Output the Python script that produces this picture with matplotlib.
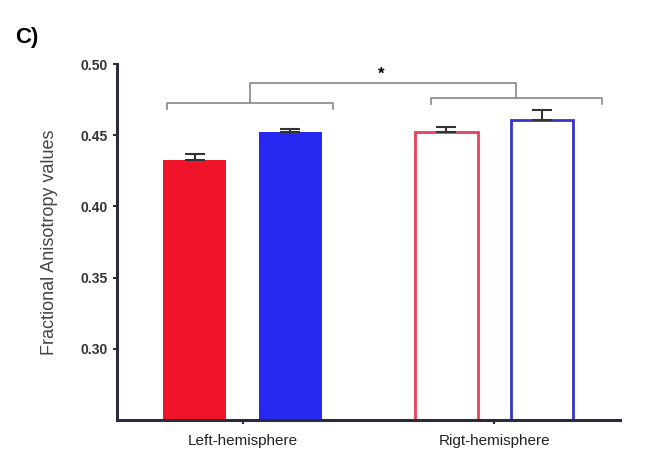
import matplotlib.pyplot as plt
import numpy as np

plt.rcParams['font.family'] = ['Liberation Sans', 'DejaVu Sans']

# Data
groups = ['Left-hemisphere', 'Rigt-hemisphere']
series_a = [0.433, 0.452]   # red
series_b = [0.452, 0.461]   # blue
err_a = [0.004, 0.0035]
err_b = [0.0025, 0.007]
yticks = [0.30, 0.35, 0.40, 0.45, 0.50]

red = '#f0142a'
blue = '#2828f0'
red_edge = '#e8405a'
blue_edge = '#3434c8'
axis_col = '#2b2b3b'

fig = plt.figure(figsize=(6.52, 4.55), dpi=100)
ax = fig.add_axes([0.179, 0.077, 0.772, 0.782])

x = np.arange(len(groups))
off = 0.19
w = 0.25

# left hemisphere: filled; right hemisphere: open
for i in range(len(groups)):
    if i == 0:
        ax.bar(x[i] - off, series_a[i], w, color=red, zorder=2)
        ax.bar(x[i] + off, series_b[i], w, color=blue, zorder=2)
    else:
        ax.bar(x[i] - off, series_a[i], w, facecolor='white', edgecolor=red_edge, linewidth=2, zorder=2)
        ax.bar(x[i] + off, series_b[i], w, facecolor='white', edgecolor=blue_edge, linewidth=2, zorder=2)

ax.errorbar(x - off, series_a, yerr=[np.zeros(2), err_a], fmt='none', ecolor='#333333',
            elinewidth=1.5, capsize=7, capthick=1.5, zorder=3)
ax.errorbar(x + off, series_b, yerr=[np.zeros(2), err_b], fmt='none', ecolor='#333333',
            elinewidth=1.5, capsize=7, capthick=1.5, zorder=3)

# significance brackets
bc = '#888888'
def bracket(x0, x1, y, h):
    ax.plot([x0, x0, x1, x1], [y - h, y, y, y - h], color=bc, lw=1.2, clip_on=False)

bracket(-0.30, 0.36, 0.4725, 0.004)
bracket(0.75, 1.43, 0.4760, 0.004)
ax.plot([0.03, 0.03, 1.085, 1.085], [0.4725, 0.4866, 0.4866, 0.476], color=bc, lw=1.2, clip_on=False)
ax.text(0.55, 0.4875, '*', ha='center', va='bottom', fontsize=12, fontweight='bold')

ax.set_xlim(-0.5, 1.5)
ax.set_ylim(0.25, 0.50)
ax.set_yticks(yticks)
ax.set_yticklabels(['%.2f' % t for t in yticks], fontsize=10, fontweight='bold', color='#333333')
ax.set_xticks(x)
ax.set_xticklabels(groups, fontsize=11, color='#222222')
ax.set_ylabel('Fractional Anisotropy values', fontsize=13, color='#444444', labelpad=16)

for s in ['top', 'right']:
    ax.spines[s].set_visible(False)
for s in ['left', 'bottom']:
    ax.spines[s].set_linewidth(2.2)
    ax.spines[s].set_color(axis_col)
ax.tick_params(axis='both', length=3, width=1.5, color=axis_col, direction='out')
ax.tick_params(axis='x', pad=7)

fig.text(0.023, 0.918, 'C)', fontsize=16, fontweight='bold', ha='left', va='center')

fig.savefig('out.png', dpi=100)
